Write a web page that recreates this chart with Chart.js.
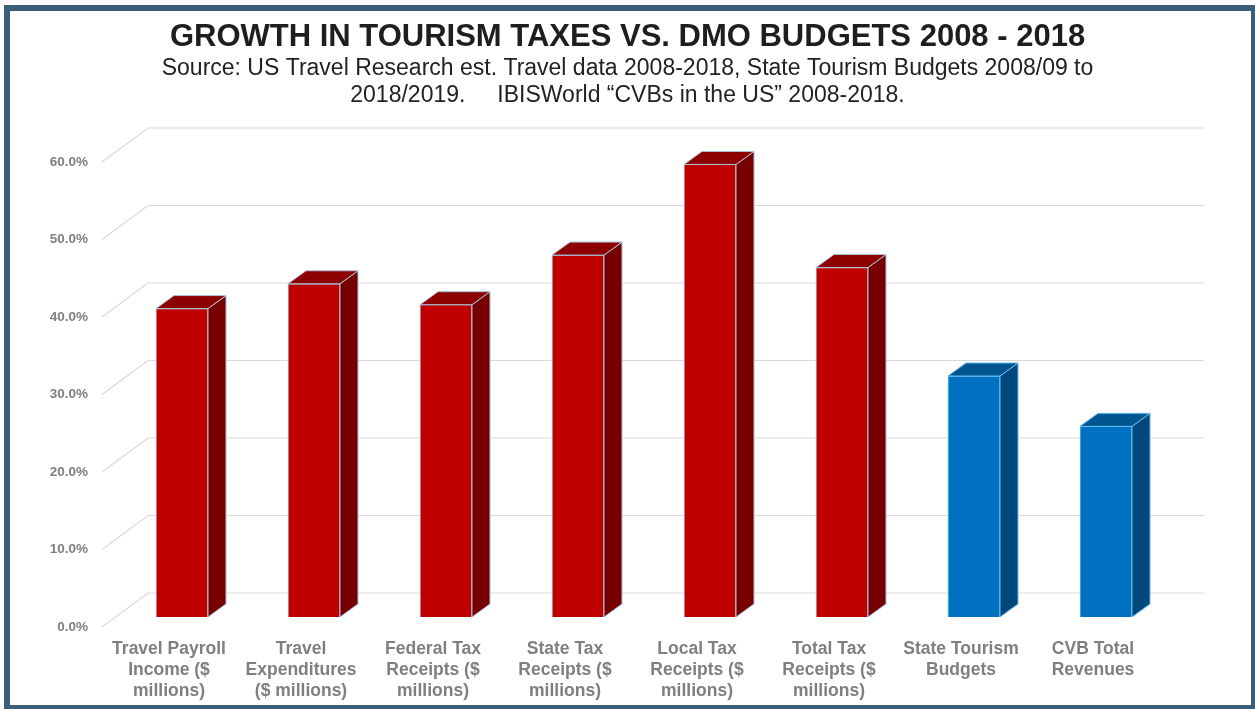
<!DOCTYPE html>
<html>
<head>
<meta charset="utf-8">
<title>Growth in Tourism Taxes vs. DMO Budgets 2008 - 2018</title>
<script src="https://cdn.jsdelivr.net/npm/chart.js@4.4.1/dist/chart.umd.min.js"></script>
<style>
    html, body { margin: 0; padding: 0; background: #ffffff; }
    #frame {
        position: absolute; left: 4px; top: 5px;
        width: 1253px; height: 706px;
        box-sizing: border-box;
        border: 6px solid #3a6079;
    }
    #growthChart { position: absolute; left: 0; top: 0; }
</style>
</head>
<body>
<div id="frame"></div>
<canvas id="growthChart" width="1255" height="709"></canvas>
<script>
/* Growth 2008-2018, percent */
const categories = [
    ['Travel Payroll', 'Income ($', 'millions)'],
    ['Travel', 'Expenditures', '($ millions)'],
    ['Federal Tax', 'Receipts ($', 'millions)'],
    ['State Tax', 'Receipts ($', 'millions)'],
    ['Local Tax', 'Receipts ($', 'millions)'],
    ['Total Tax', 'Receipts ($', 'millions)'],
    ['State Tourism', 'Budgets'],
    ['CVB Total', 'Revenues']
];
const growthPct = [39.8, 43.0, 40.3, 46.7, 58.4, 45.1, 31.1, 24.6];
/* which bars are tax measures and which are DMO budgets */
const barGroup = ['tax', 'tax', 'tax', 'tax', 'tax', 'tax', 'budget', 'budget'];
const yTicks = [0, 10, 20, 30, 40, 50, 60];

const FONT = '"Liberation Sans", Arial, sans-serif';
const palette = {
    tax:    { front: '#c00000', top: '#8c0000', side: '#770000', edge: '#a9c2da' },
    budget: { front: '#0070c0', top: '#00558f', side: '#00487c', edge: '#63bdf2' }
};

/* depth of each bar and of the back wall, in pixels */
const BAR_DX = 18, BAR_DY = -13;
const WALL_DX = 32, WALL_DY = -24;
const FLOOR_DX = -14, FLOOR_DY = 10;

/* back wall gridlines with the slanted side-wall lines */
const wallGrid = {
    id: 'wallGrid',
    beforeDatasetsDraw(chart) {
        const { ctx, chartArea } = chart;
        const yScale = chart.scales.y;
        ctx.save();
        ctx.strokeStyle = '#d9d9d9';
        ctx.lineWidth = 1.2;
        yTicks.forEach(v => {
            const y = yScale.getPixelForValue(v);
            ctx.beginPath();
            ctx.moveTo(chartArea.left + FLOOR_DX, y + FLOOR_DY);
            ctx.lineTo(chartArea.left + WALL_DX, y + WALL_DY);
            ctx.lineTo(chartArea.right + WALL_DX, y + WALL_DY);
            ctx.stroke();
        });
        ctx.restore();
    }
};

/* top and side faces so the bars look like blocks */
const barBlocks = {
    id: 'barBlocks',
    afterDatasetsDraw(chart) {
        const { ctx } = chart;
        const meta = chart.getDatasetMeta(0);
        ctx.save();
        ctx.lineWidth = 1;
        ctx.lineJoin = 'round';
        meta.data.forEach((bar, i) => {
            const { x, y, base, width } = bar.getProps(['x', 'y', 'base', 'width'], true);
            const c = palette[barGroup[i]];
            const left = x - width / 2;
            const right = x + width / 2;

            ctx.strokeStyle = c.edge;

            ctx.beginPath();
            ctx.moveTo(right, y);
            ctx.lineTo(right + BAR_DX, y + BAR_DY);
            ctx.lineTo(right + BAR_DX, base + BAR_DY);
            ctx.lineTo(right, base);
            ctx.closePath();
            ctx.fillStyle = c.side;
            ctx.fill();
            ctx.stroke();

            ctx.beginPath();
            ctx.moveTo(left, y);
            ctx.lineTo(left + BAR_DX, y + BAR_DY);
            ctx.lineTo(right + BAR_DX, y + BAR_DY);
            ctx.lineTo(right, y);
            ctx.closePath();
            ctx.fillStyle = c.top;
            ctx.fill();
            ctx.stroke();
        });
        ctx.restore();
    }
};

new Chart(document.getElementById('growthChart'), {
    type: 'bar',
    data: {
        labels: categories,
        datasets: [{
            data: growthPct,
            backgroundColor: barGroup.map(g => palette[g].front),
            borderColor: barGroup.map(g => palette[g].edge),
            borderWidth: 1,
            barThickness: 52
        }]
    },
    options: {
        responsive: false,
        animation: false,
        devicePixelRatio: 1,
        plugins: {
            legend: { display: false },
            tooltip: { enabled: false },
            title: {
                display: true,
                text: 'GROWTH IN TOURISM TAXES VS. DMO BUDGETS 2008 - 2018',
                color: '#1e1e1e',
                font: { family: FONT, size: 31, weight: 'bold', lineHeight: 1.1 },
                padding: { top: 20, bottom: 0 }
            },
            subtitle: {
                display: true,
                text: [
                    'Source: US Travel Research est. Travel data 2008-2018, State Tourism Budgets 2008/09 to',
                    '2018/2019.     IBISWorld \u201cCVBs in the US\u201d 2008-2018.'
                ],
                color: '#222222',
                font: { family: FONT, size: 23, lineHeight: 1.17 },
                padding: { top: 1.5, bottom: 42.6 }
            }
        },
        scales: {
            x: {
                grid: { display: false, drawTicks: false },
                border: { display: false },
                ticks: {
                    color: '#7f7f7f',
                    font: { family: FONT, size: 17.5, weight: 'bold', lineHeight: 1.2 },
                    padding: 22,
                    labelOffset: -13,
                    autoSkip: false,
                    maxRotation: 0
                },
                afterFit(scale) { scale.height = 92; }
            },
            y: {
                min: 0,
                max: 60,
                grid: { display: false, drawTicks: false },
                border: { display: false },
                ticks: {
                    stepSize: 10,
                    color: '#7f7f7f',
                    font: { family: FONT, size: 13.5, weight: 'bold' },
                    padding: 28,
                    labelOffset: 10,
                    callback: v => v.toFixed(1) + '%'
                },
                afterFit(scale) { scale.width = 116; }
            },
            /* empty right-hand margin that leaves room for the wall depth */
            yRight: {
                type: 'linear',
                position: 'right',
                grid: { display: false, drawTicks: false },
                border: { display: false },
                ticks: { display: false },
                afterFit(scale) { scale.width = 83; }
            }
        }
    },
    plugins: [wallGrid, barBlocks]
});
</script>
</body>
</html>
